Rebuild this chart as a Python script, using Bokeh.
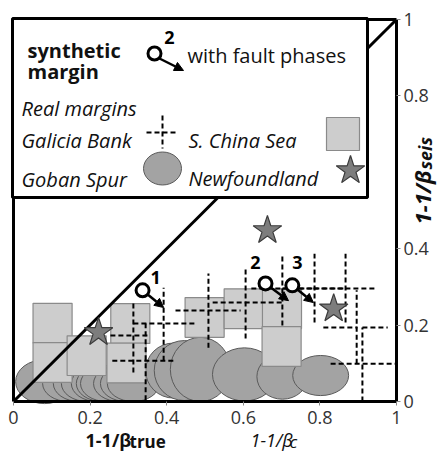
import numpy as np
from bokeh.plotting import figure
from bokeh.models import (Range1d, FixedTicker, Label, Arrow, NormalHead,
                          ColumnDataSource, LinearAxis)
from bokeh.core.properties import value
from bokeh.embed import file_html
from bokeh.resources import INLINE

# ---------------- data ----------------
# Goban Spur: error ellipses (centre, full width, full height)
goban_x = [0.081, 0.144, 0.172, 0.193, 0.219, 0.232, 0.243, 0.277, 0.295, 0.313,
           0.418, 0.446, 0.488, 0.603, 0.702, 0.802]
goban_y = [0.052, 0.047, 0.047, 0.047, 0.047, 0.047, 0.047, 0.047, 0.047, 0.047,
           0.081, 0.081, 0.084, 0.071, 0.065, 0.068]
goban_w = [0.151, 0.136, 0.136, 0.136, 0.136, 0.136, 0.136, 0.136, 0.136, 0.136,
           0.146, 0.157, 0.157, 0.167, 0.133, 0.146]
goban_h = [0.115, 0.094, 0.094, 0.094, 0.094, 0.094, 0.094, 0.094, 0.094, 0.094,
           0.144, 0.157, 0.168, 0.139, 0.118, 0.105]

# S. China Sea
scs_x = [0.102, 0.102, 0.191, 0.305, 0.295, 0.499, 0.601, 0.701, 0.700]
scs_y = [0.205, 0.102, 0.120, 0.204, 0.101, 0.220, 0.243, 0.243, 0.144]

# Galicia Bank: crosses (centre, x range, y range)
gal_x = [0.313, 0.345, 0.392, 0.509, 0.606, 0.702, 0.786, 0.867, 0.896, 0.911, 0.854]
gal_y = [0.204, 0.173, 0.107, 0.238, 0.259, 0.296, 0.296, 0.296, 0.099, 0.194, 0.194]
gal_xlo = [0.313, 0.253, 0.258, 0.423, 0.520, 0.621, 0.702, 0.783, 0.828, 0.911, 0.809]
gal_xhi = [0.475, 0.350, 0.423, 0.593, 0.702, 0.783, 0.867, 0.948, 1.000, 0.977, 0.898]
gal_ylo = [0.076, 0.003, 0.107, 0.141, 0.165, 0.199, 0.207, 0.207, 0.099, 0.000, 0.194]
gal_yhi = [0.264, 0.204, 0.298, 0.335, 0.351, 0.387, 0.387, 0.387, 0.291, 0.194, 0.194]

# Newfoundland
newf_x = [0.222, 0.663, 0.836]
newf_y = [0.181, 0.448, 0.243]

# synthetic margins with fault phases
fault_x = [0.337, 0.658, 0.728]
fault_y = [0.291, 0.309, 0.304]
fault_tip_x = [0.392, 0.718, 0.783]
fault_tip_y = [0.246, 0.264, 0.259]
fault_label = ["1", "2", "3"]

x_ticks = [0, 0.2, 0.4, 0.6, 0.8, 1]
x_tick_labels = ["0", "0.2", "0.4", "0.6", "0.8", "1"]
y_ticks = [0, 0.2, 0.4, 0.8, 1]
y_tick_labels = ["0", "0.2", "0.4", "0.8", "1"]

# ---------------- geometry / styling ----------------
FONT = "Open Sans"
W, H = 438, 453            # canvas
L0, T0 = 13, 19            # where data (0, 1) sits on the canvas
FW, FH = 383, 382          # px per data unit


def fx(px):                # px offset from the plot box's left edge -> data x
    return px / FW


def fy(py):                # px offset from the plot box's top edge -> data y
    return 1 - py / FH


p = figure(width=W, height=H,
           x_range=Range1d(-L0 / FW, (W - L0) / FW),
           y_range=Range1d(1 - (H - T0) / FH, 1 + T0 / FH),
           x_axis_location=None, y_axis_location=None,
           toolbar_location=None, output_backend="svg", min_border=0)
p.grid.visible = False
p.outline_line_color = None
p.background_fill_color = "white"
p.border_fill_color = "white"

xa = LinearAxis(fixed_location=0, bounds=(0, 1))
ya = LinearAxis(fixed_location=1, bounds=(0, 1))
for ax, ticks, labels in ((xa, x_ticks, x_tick_labels), (ya, y_ticks, y_tick_labels)):
    ax.ticker = FixedTicker(ticks=ticks)
    ax.major_label_overrides = {t: l for t, l in zip(ticks, labels)}
    ax.minor_tick_line_color = None
    ax.major_tick_in = 0
    ax.major_tick_out = 4
    ax.major_tick_line_color = "#888888"
    ax.axis_line_color = "black"
    ax.axis_line_width = 3
    ax.major_label_text_font = FONT
    ax.major_label_text_font_size = "18px"
    ax.major_label_text_color = "#333333"
xa.major_label_standoff = 5
ya.major_label_standoff = 3
p.add_layout(xa, "below")
p.add_layout(ya, "right")

# ellipses (Goban Spur)
p.ellipse(x=goban_x, y=goban_y, width=goban_w, height=goban_h,
          fill_color="#a3a3a3", line_color="#5a5a5a", line_width=1)

# squares (S. China Sea)
p.rect(x=scs_x, y=scs_y, width=0.102, height=0.104,
       fill_color="#cdcdcd", line_color="#8a8a8a", line_width=1.2)

# 1:1 line
p.line([0, 1], [0, 1], line_color="black", line_width=3)

# Galicia Bank crosses
p.segment(x0=gal_xlo, y0=gal_y, x1=gal_xhi, y1=gal_y, line_color="black",
          line_width=2, line_dash="5 3")
p.segment(x0=gal_x, y0=gal_ylo, x1=gal_x, y1=gal_yhi, line_color="black",
          line_width=2, line_dash="5 3")

# Newfoundland stars
p.scatter(x=newf_x, y=newf_y, marker="star", size=30,
          fill_color="#7d7d7d", line_color="#3c3c3c", line_width=1.2)

# fault phase markers
fx_arr = np.array(fault_x); fy_arr = np.array(fault_y)
tx = np.array(fault_tip_x); ty = np.array(fault_tip_y)
vx = (tx - fx_arr) * FW; vy = (ty - fy_arr) * FH
Ln = np.hypot(vx, vy)
r = 7.0
sx = fx_arr + vx / Ln * r / FW
sy = fy_arr + vy / Ln * r / FH
asrc = ColumnDataSource(dict(xs=sx, ys=sy, xe=tx, ye=ty))
p.add_layout(Arrow(end=NormalHead(size=9, fill_color="black", line_color="black"),
                   x_start="xs", y_start="ys", x_end="xe", y_end="ye", source=asrc,
                   line_width=2.5, line_color="black"))
p.scatter(x=fault_x, y=fault_y, marker="circle", size=13, fill_color="white",
          line_color="black", line_width=3)
p.text(x=fault_x, y=fault_y, text=fault_label, x_offset=[13, -10, 5], y_offset=[-13, -21, -23],
       text_font=value(FONT), text_font_size="18px", text_font_style="bold",
       text_align="center", text_baseline="middle", text_color="black")

# plot box (left / top edges)
p.line([0, 0, 1], [0, 1, 1], line_color="black", line_width=3)

# ---------------- legend (drawn by hand) ----------------
p.quad(left=[fx(-1)], right=[fx(354)], bottom=[fy(178)], top=[fy(-1)],
       fill_color="white", line_color="black", line_width=3)

p.text(x=[fx(14), fx(14)], y=[fy(31), fy(52)], text=["synthetic", "margin"],
       text_font=value(FONT), text_font_size="20px", text_font_style="bold",
       text_baseline="alphabetic", text_color="#111111")
p.text(x=[fx(174)], y=[fy(36)], text=["with fault phases"],
       text_font=value(FONT), text_font_size="20px", text_font_style="normal",
       text_baseline="alphabetic", text_color="#111111")
p.text(x=[fx(8), fx(8), fx(175), fx(8), fx(175)],
       y=[fy(89), fy(121), fy(121), fy(160), fy(159)],
       text=["Real margins", "Galicia Bank", "S. China Sea", "Goban Spur", "Newfoundland"],
       text_font=value(FONT), text_font_size="20px", text_font_style="italic",
       text_baseline="alphabetic", text_color="#111111")

# legend samples
p.add_layout(Arrow(end=NormalHead(size=9, fill_color="black", line_color="black"),
                   x_start=fx(146), y_start=fy(39), x_end=fx(170), y_end=fy(51),
                   line_width=2.5, line_color="black"))
p.scatter(x=[fx(141)], y=[fy(34)], marker="circle", size=13, fill_color="white",
          line_color="black", line_width=3)
p.text(x=[fx(156)], y=[fy(18)], text=["2"], text_font=value(FONT), text_font_size="18px",
       text_font_style="bold", text_align="center", text_baseline="middle", text_color="black")
p.segment(x0=[fx(149), fx(133)], y0=[fy(96), fy(113)], x1=[fx(149), fx(164)], y1=[fy(129), fy(113)],
          line_color="black", line_width=2, line_dash="5 3")
p.scatter(x=[fx(329.5)], y=[fy(114.5)], marker="square", size=33,
          fill_color="#cdcdcd", line_color="#8a8a8a", line_width=1.2)
p.ellipse(x=[fx(149)], y=[fy(149)], width=38, height=33, width_units="screen", height_units="screen",
          fill_color="#a3a3a3", line_color="#5a5a5a", line_width=1)
p.scatter(x=[fx(337)], y=[fy(151)], marker="star", size=30,
          fill_color="#7d7d7d", line_color="#3c3c3c", line_width=1.2)


# ---------------- axis titles ----------------
def lab(x, y, t, size, style, angle=0.0):
    p.add_layout(Label(x=x, y=y, text=t, text_font=FONT, text_font_size=size,
                       text_font_style=style, text_baseline="alphabetic", text_align="left",
                       angle=angle, text_color="#111111"))


lab(fx(72), fy(420), "1-1/β", "18px", "bold")
lab(fx(116), fy(422), "true", "17px", "bold")
lab(fx(237), fy(420), "1-1/β", "18px", "italic")
lab(fx(276), fy(422), "c", "17px", "italic")
lab(fx(408), fy(205), "1-1/β", "22px", "bold italic", angle=np.pi / 2)
lab(fx(411), fy(150), "seis", "18px", "bold italic", angle=np.pi / 2)

open("out.html", "w").write(file_html(p, INLINE))
